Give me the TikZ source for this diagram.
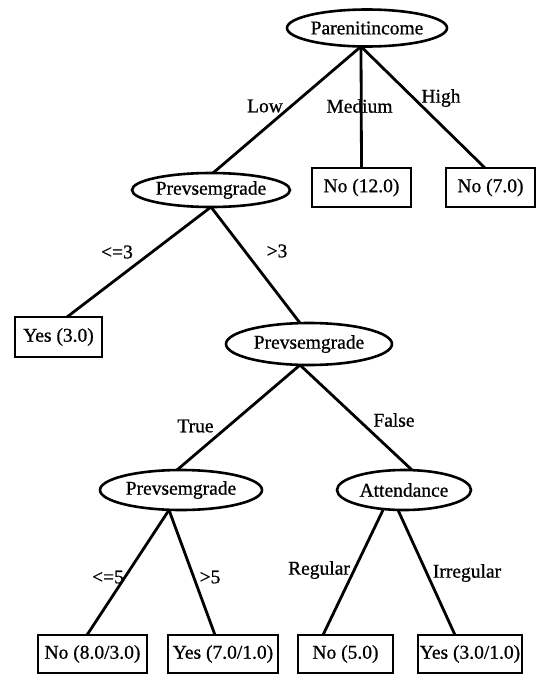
\documentclass[tikz,border=0pt]{standalone}
\usepackage{fontspec}
\setmainfont[FakeBold=0.8]{Liberation Serif}
\usetikzlibrary{shapes.geometric}
\begin{document}
\begin{tikzpicture}[x=1pt,y=-1pt,
  every node/.style={font=\fontsize{19.5}{22}\selectfont},
  attr/.style={ellipse,draw,line width=2.6pt,inner sep=0pt,outer sep=0pt},
  leaf/.style={rectangle,draw,line width=2.8pt,inner sep=0pt,outer sep=0pt},
  edge/.style={draw,line width=2.8pt},
  lab/.style={inner sep=0pt}]
\useasboundingbox (0,0) rectangle (544,675);
% attribute nodes
\node[attr,minimum width=160pt,minimum height=37pt] (root) at (367,28) {Parenitincome};
\node[attr,minimum width=158pt,minimum height=34pt] (p2) at (211,190) {Prevsemgrade};
\node[attr,minimum width=166pt,minimum height=42pt] (p3) at (309,344) {Prevsemgrade};
\node[attr,minimum width=162pt,minimum height=40pt] (p4) at (181,490) {Prevsemgrade};
\node[attr,minimum width=134pt,minimum height=40pt] (att) at (404,490) {Attendance};
% leaves
\node[leaf,minimum width=99pt,minimum height=39pt] (l12) at (361.5,187.5) {No (12.0)};
\node[leaf,minimum width=89pt,minimum height=39pt] (l7) at (490.5,187.5) {No (7.0)};
\node[leaf,minimum width=87pt,minimum height=40pt] (y3) at (58.5,337) {Yes (3.0)};
\node[leaf,minimum width=109pt,minimum height=38pt] (b1) at (92.5,654) {No (8.0/3.0)};
\node[leaf,minimum width=110pt,minimum height=38pt] (b2) at (223,654) {Yes (7.0/1.0)};
\node[leaf,minimum width=95pt,minimum height=38pt] (b3) at (345.5,654) {No (5.0)};
\node[leaf,minimum width=104pt,minimum height=38pt] (b4) at (470,654) {Yes (3.0/1.0)};
% edges
\draw[edge] ([xshift=-6pt]root.south) -- ([xshift=2pt]p2.north);
\draw[edge] ([xshift=-6pt]root.south) -- (l12.north);
\draw[edge] ([xshift=-6pt]root.south) -- ([xshift=-5.5pt]l7.north);
\draw[edge] (p2.south) -- ([xshift=8.5pt]y3.north);
\draw[edge] (p2.south) -- ([xshift=-9pt]p3.north);
\draw[edge] ([xshift=-9pt]p3.south) -- ([xshift=-4pt]p4.north);
\draw[edge] ([xshift=-9pt]p3.south) -- ([xshift=8pt]att.north);
\draw[edge] ([xshift=-12pt]p4.south) -- ([xshift=-5.5pt]b1.north);
\draw[edge] ([xshift=-12pt]p4.south) -- ([xshift=-8pt]b2.north);
\draw[edge] ([xshift=-21pt]att.south) -- ([xshift=-22.5pt]b3.north);
\draw[edge] ([xshift=-6pt]att.south) -- ([xshift=-15pt]b4.north);
% labels
\node[lab] (tLow) at (265,106) {Low};
\node[lab] (tMed) at (359.5,106) {Medium};
\node[lab] (tHigh) at (441,98) {High};
\node[lab] (tle3) at (117,252) {<=3};
\node[lab] (tgt3) at (277,251) {>3};
\node[lab] (tTrue) at (195.5,426) {True};
\node[lab] (tFalse) at (394,420) {False};
\node[lab] (tle5) at (108,577) {<=5};
\node[lab] (tgt5) at (210,577) {>5};
\node[lab] (tReg) at (319,570) {Regular};
\node[lab] (tIrr) at (467,573) {Irregular};
\end{tikzpicture}
\end{document}
